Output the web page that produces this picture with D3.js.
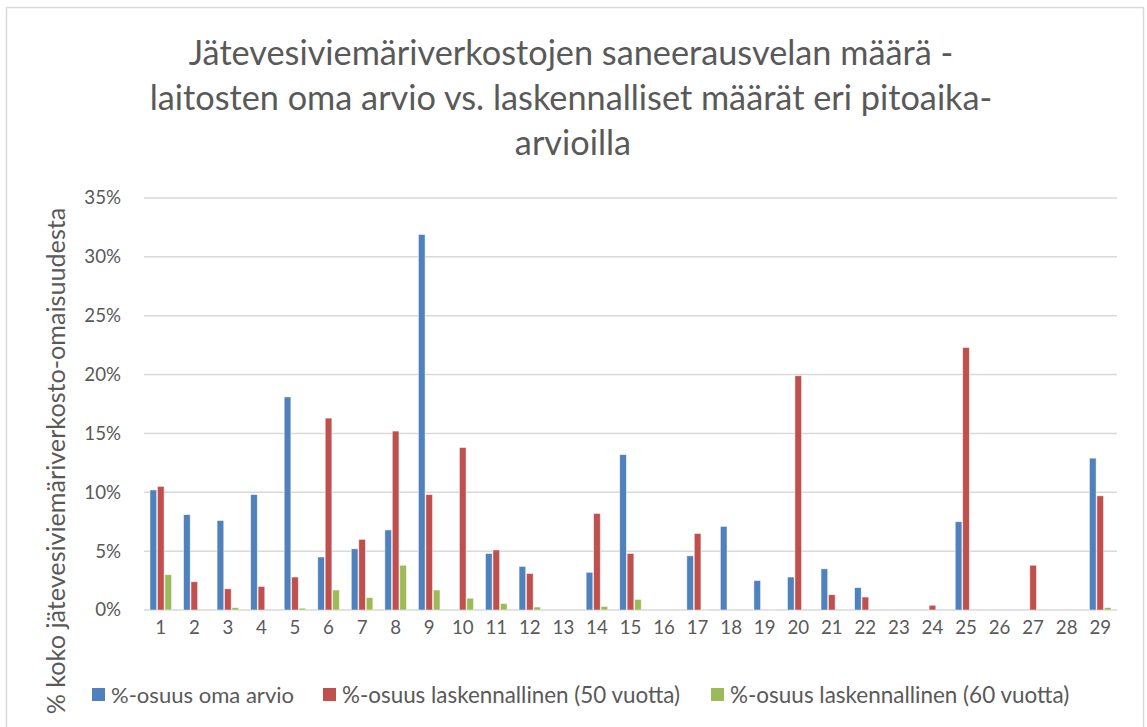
<!DOCTYPE html>
<html lang="en">
<head>
<meta charset="UTF-8">
<title>Saneerausvelka</title>
<script src="https://d3js.org/d3.v7.min.js"></script>
<style>
  body { margin: 0; background: #fff; }
  text { font-family: Lato, "Open Sans", sans-serif; fill: #595959; }
</style>
</head>
<body>
<script>
  // data (values in %)
  var categories = d3.range(1, 30).map(String);
  var seriesNames = ['%-osuus oma arvio', '%-osuus laskennallinen (50 vuotta)', '%-osuus laskennallinen (60 vuotta)'];
  var seriesColors = ['#4F81BD', '#C0504D', '#9BBB59'];
  var omaArvio = [10.2, 8.1, 7.6, 9.8, 18.1, 4.5, 5.2, 6.8, 31.9, 0, 4.8, 3.7, 0, 3.2, 13.2, 0, 4.6, 7.1, 2.5, 2.8, 3.5, 1.9, 0, 0, 7.5, 0, 0, 0, 12.9];
  var lask50 = [10.5, 2.4, 1.8, 2.0, 2.8, 16.3, 6.0, 15.2, 9.8, 13.8, 5.1, 3.1, 0, 8.2, 4.8, 0, 6.5, 0, 0, 19.9, 1.3, 1.1, 0, 0.4, 22.3, 0, 3.8, 0, 9.7];
  var lask60 = [3.0, 0, 0.2, 0, 0.15, 1.7, 1.05, 3.8, 1.7, 1.0, 0.55, 0.25, 0, 0.3, 0.9, 0, 0.05, 0, 0.02, 0, 0, 0, 0, 0, 0, 0, 0, 0, 0.2];
  var yTicks = [0, 5, 10, 15, 20, 25, 30, 35];
  var titleLines = ['Jätevesiviemäriverkostojen saneerausvelan määrä -',
    'laitosten oma arvio vs. laskennalliset määrät eri pitoaika-',
    'arvioilla'];
  var yTitle = '% koko jätevesiviemäriverkosto-omaisuudesta';

  var seriesValues = [omaArvio, lask50, lask60];
  var width = 1147, height = 727;

  var svg = d3.select('body').append('svg')
    .attr('width', width).attr('height', height);

  // chart border
  svg.append('rect')
    .attr('x', 6.5).attr('y', 7.5).attr('width', 1137).attr('height', 730)
    .attr('fill', 'none').attr('stroke', '#d9d9d9').attr('stroke-width', 1.5);

  // scale font size of a text so it gets a given width
  function fitWidth(sel, target) {
    var w = sel.node().getComputedTextLength();
    var fs = parseFloat(sel.attr('font-size'));
    sel.attr('font-size', fs * target / w);
    return fs * target / w;
  }

  var x = d3.scaleBand().domain(categories).range([144, 1117]);
  var x1 = d3.scaleBand().domain(d3.range(3)).range([x.bandwidth() / 6, x.bandwidth() * 5 / 6]);
  var y = d3.scaleLinear().domain([0, 35]).range([610, 198]);

  // gridlines
  svg.append('g').selectAll('line').data(yTicks).join('line')
    .attr('x1', 144).attr('x2', 1117)
    .attr('y1', function (d) { return y(d); })
    .attr('y2', function (d) { return y(d); })
    .attr('stroke', '#d9d9d9').attr('stroke-width', 1.5);

  // y axis labels
  var yAxis = svg.append('g')
    .attr('transform', 'translate(121,0)')
    .call(d3.axisLeft(y).tickValues(yTicks).tickSize(0).tickPadding(0)
      .tickFormat(function (d) { return d + '%'; }));
  yAxis.select('.domain').remove();
  yAxis.selectAll('text').attr('font-size', 18.7).attr('font-family', null).attr('fill', '#595959');

  // x axis labels
  var xAxis = svg.append('g')
    .attr('transform', 'translate(0,610)')
    .call(d3.axisBottom(x).tickSize(0).tickPadding(24));
  xAxis.select('.domain').remove();
  xAxis.selectAll('text').attr('font-size', 18.7).attr('font-family', null).attr('fill', '#595959')
    .attr('dy', '0');

  // bars
  seriesValues.forEach(function (vals, s) {
    svg.append('g').selectAll('rect').data(vals).join('rect')
      .attr('x', function (d, i) { return x(categories[i]) + x1(s) + 0.4; })
      .attr('width', x1.bandwidth() - 0.8)
      .attr('y', function (d) { return y(d); })
      .attr('height', function (d) { return y(0) - y(d); })
      .attr('fill', seriesColors[s])
      .attr('stroke', '#ffffff').attr('stroke-opacity', 0.6).attr('stroke-width', 0.8);
  });

  // title
  var t2 = svg.append('text').attr('x', 571).attr('y', 110)
    .attr('text-anchor', 'middle').attr('font-size', 30).text(titleLines[1]);
  var tfs = fitWidth(t2, 843);
  svg.append('text').attr('x', 571).attr('y', 65)
    .attr('text-anchor', 'middle').attr('font-size', tfs).text(titleLines[0]);
  svg.append('text').attr('x', 573).attr('y', 155)
    .attr('text-anchor', 'middle').attr('font-size', tfs).text(titleLines[2]);

  // y title
  var yt = svg.append('text')
    .attr('transform', 'translate(65,461) rotate(-90)')
    .attr('text-anchor', 'middle').attr('font-size', 20).text(yTitle);
  fitWidth(yt, 507);

  // legend
  var legendX = [92, 323, 711];
  var legendW = [183, 338, 339];
  seriesNames.forEach(function (name, s) {
    svg.append('rect').attr('x', legendX[s]).attr('y', 688)
      .attr('width', 13).attr('height', 13).attr('fill', seriesColors[s]);
    var lt = svg.append('text').attr('x', legendX[s] + 19).attr('y', 703)
      .attr('font-size', 18.7).text(name);
    fitWidth(lt, legendW[s]);
  });
</script>
</body>
</html>
